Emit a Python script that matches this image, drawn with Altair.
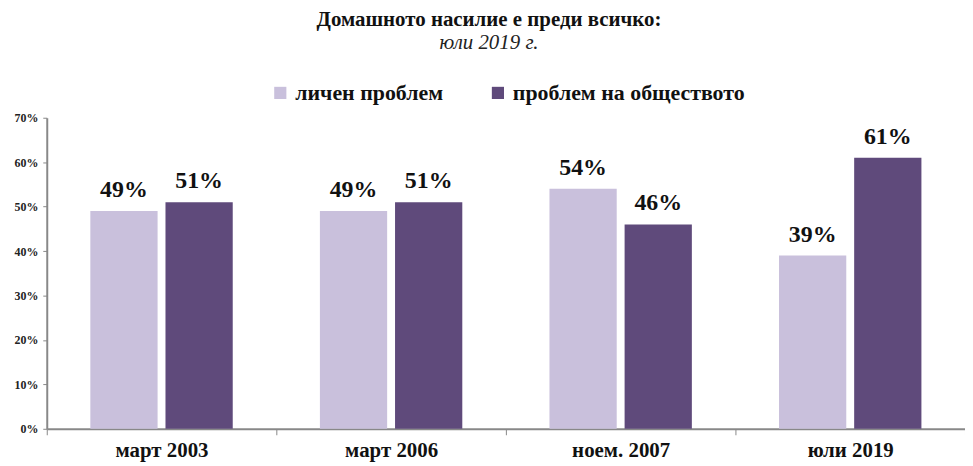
import altair as alt
import pandas as pd

periods = ["март 2003", "март 2006", "ноем. 2007", "юли 2019"]
series = ["личен проблем", "проблем на обществото"]
personal = [49, 49, 54, 39]
society = [51, 51, 46, 61]
colors = ["#c9c0dc", "#5f4a7b"]

rows = []
for i, p in enumerate(periods):
    rows.append({"period": p, "series": series[0], "value": personal[i] / 100, "label": f"{personal[i]}%"})
    rows.append({"period": p, "series": series[1], "value": society[i] / 100, "label": f"{society[i]}%"})
df = pd.DataFrame(rows)

FONT = "'Times New Roman', 'Liberation Serif', 'DejaVu Serif', serif"

x = alt.X("period:N", sort=periods, title=None,
          scale=alt.Scale(paddingInner=0, paddingOuter=0),
          axis=alt.Axis(labelAngle=0, labelFont=FONT, labelFontSize=21, labelFontWeight="bold",
                        labelColor="#111", domainColor="#888", domainWidth=2, tickColor="#888",
                        tickBand="extent", tickSize=6, labelPadding=5))
xo = alt.XOffset("series:N", sort=series,
                 scale=alt.Scale(paddingInner=0.105, paddingOuter=0.58))

base = alt.Chart(df).encode(x=x, xOffset=xo)

bars = base.mark_bar().encode(
    y=alt.Y("value:Q", title=None,
            scale=alt.Scale(domain=[0, 0.7]),
            axis=alt.Axis(format="%", values=[0, 0.1, 0.2, 0.3, 0.4, 0.5, 0.6, 0.7], grid=False,
                          labelFont=FONT, labelFontSize=12, labelFontWeight="bold", labelColor="#222",
                          domainColor="#888", domainWidth=2, tickColor="#888", tickSize=4,
                          labelPadding=5)),
    color=alt.Color("series:N", sort=series,
                    scale=alt.Scale(domain=series, range=colors),
                    legend=alt.Legend(title=None, orient="none", direction="horizontal",
                                      legendX=224, legendY=-36, symbolType="square", symbolSize=150,
                                      symbolStrokeWidth=0, labelFont=FONT, labelFontSize=22,
                                      labelFontWeight="bold", labelColor="#111", columnPadding=44,
                                      labelLimit=400)),
)

text = base.mark_text(baseline="bottom", dy=-9, font=FONT, fontSize=24, fontWeight="bold",
                      color="#111").encode(
    y=alt.Y("value:Q"),
    text="label:N",
)

chart = alt.layer(bars, text).properties(
    width=924, height=313,
    padding={"left": 39, "top": 109, "right": 0, "bottom": 36},
    autosize=alt.AutoSizeParams(type="none"),
    title=alt.TitleParams(
        text="Домашното насилие е преди всичко:",
        subtitle="юли 2019 г.",
        font=FONT, fontSize=21, fontWeight="bold", color="#111",
        subtitleFont=FONT, subtitleFontSize=21, subtitleFontStyle="italic", subtitleColor="#222",
        anchor="middle", dx=-17, offset=29, subtitlePadding=2,
    ),
).configure(font=FONT).configure_legend(labelFont=FONT).configure_view(stroke=None)

chart.save("out.html", embed_options={"renderer": "svg", "actions": False})
